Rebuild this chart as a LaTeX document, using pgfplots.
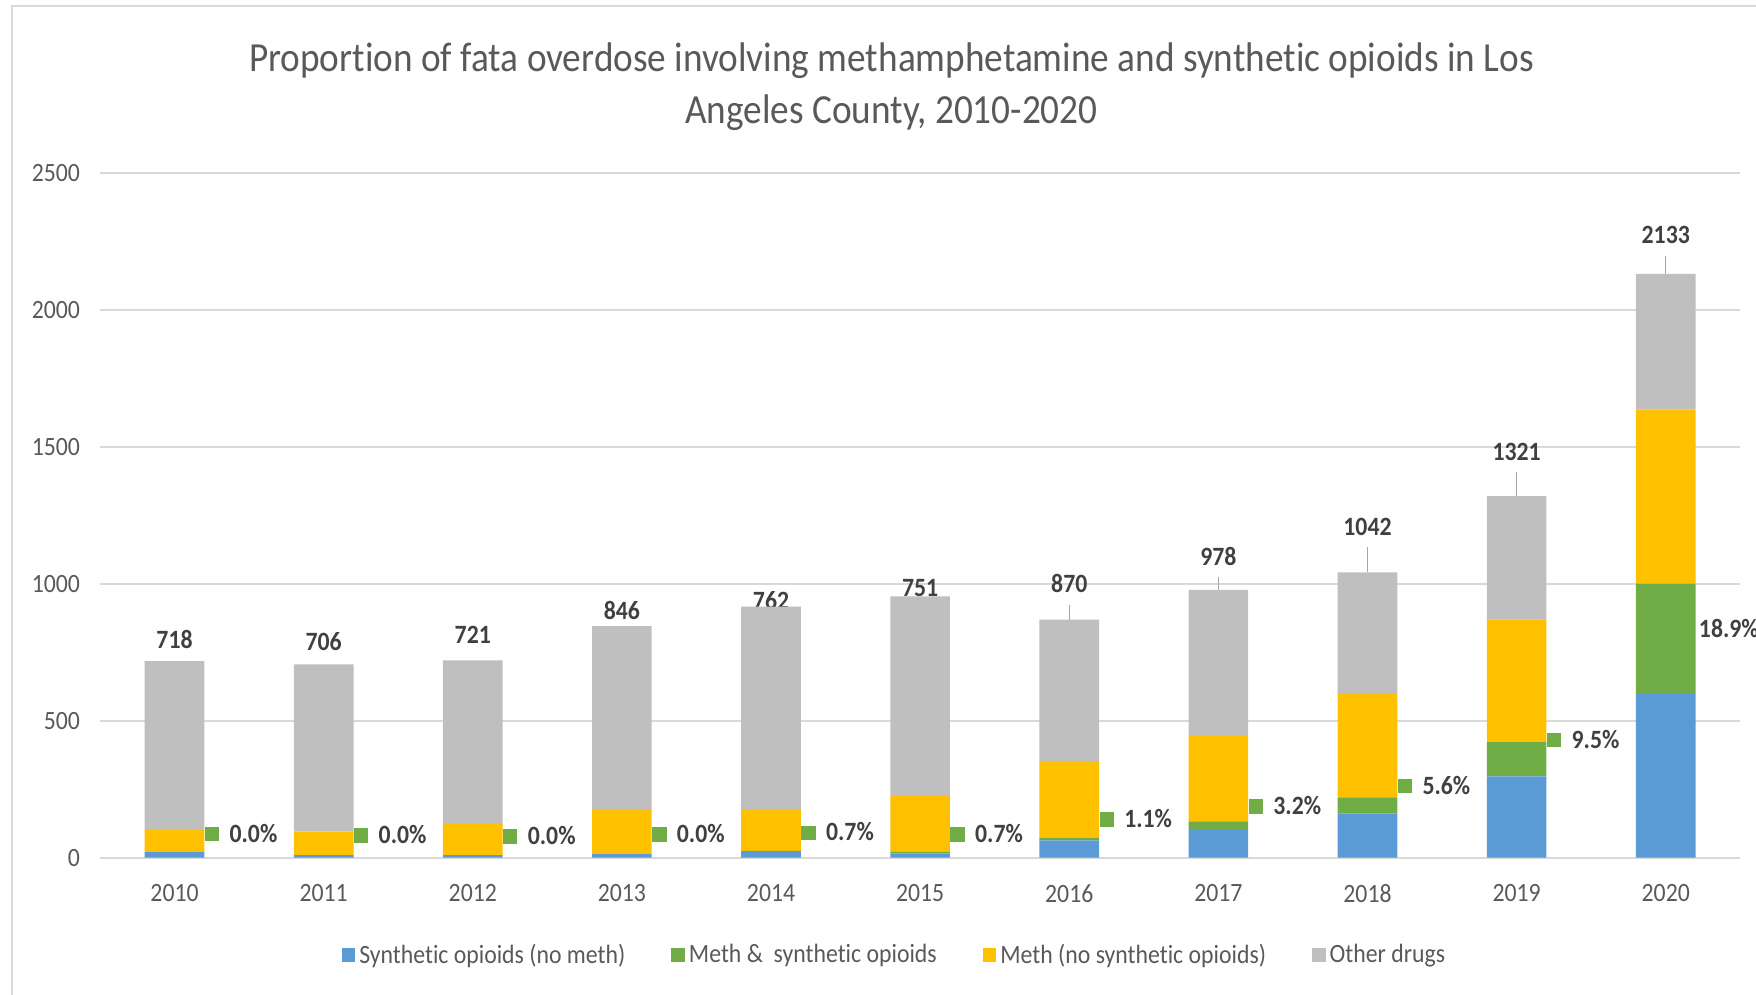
\documentclass[border=0pt]{standalone}
\usepackage{pgfplots}
\usepackage{pgfplotstable}
\pgfplotsset{compat=1.18}
\usepackage{fontspec}
\setmainfont{Carlito}[FakeStretch=0.9, Ligatures={NoCommon}]
\definecolor{cBlue}{HTML}{5B9BD5}
\definecolor{cGreen}{HTML}{70AD47}
\definecolor{cYellow}{HTML}{FFC000}
\definecolor{cGray}{HTML}{BFBFBF}
\definecolor{gridc}{HTML}{D9D9D9}
\definecolor{tickc}{HTML}{595959}
\definecolor{labc}{HTML}{404040}
\definecolor{leadc}{HTML}{A6A6A6}

\pgfplotstableread{
x blue green yellow other
0 20 0 81 617
1 9 0 86 611
2 9 0 114 598
3 15 0 160 671
4 20 5 152 740
5 16 5 204 730
6 63 10 277 520
7 102 31 315 530
8 162 58 378 444
9 297 125 449 450
10 598 403 637 495
}\datatable

\newcommand{\lfont}{\fontsize{13.2}{15}\selectfont}
\newcommand{\tot}[3]{\node[text=labc, font=\bfseries\lfont, inner sep=1pt] at (axis cs:#1,#2) {#3};}
\newcommand{\lead}[3]{\draw[leadc, line width=0.6pt] (axis cs:#1,#2) -- (axis cs:#1,#3);}
\newcommand{\pct}[3]{\node[anchor=base west, inner sep=0pt, yshift=-3.95pt, text=labc, font=\bfseries\lfont] at (axis cs:#1,#2) {\textcolor{cGreen}{\rule[0.35pt]{7.2pt}{7.2pt}}\hspace{5.2pt}#3};}

\begin{document}
\begin{tikzpicture}
\begin{axis}[
  width=820.15pt, height=342.2pt, scale only axis,
  xmin=-0.5, xmax=10.5, ymin=0, ymax=2500,
  ybar stacked, bar width=0.4,
  xtick={0,...,10},
  xticklabels={2010,2011,2012,2013,2014,2015,2016,2017,2018,2019,2020},
  ytick={0,500,1000,1500,2000,2500},
  ymajorgrids, grid style={gridc, line width=1pt},
  axis line style={draw=none}, major tick length=0pt,
  tick label style={font=\lfont, text=tickc},
  /pgf/number format/assume math mode=true,
  /pgf/number format/1000 sep={},
  yticklabel style={xshift=-6.5pt},
  xticklabel style={yshift=-10pt},
  legend columns=4,
  legend style={at={(0.4849,-0.1422)}, anchor=center, draw=none, fill=none,
    font=\lfont, text=tickc, inner sep=0pt,
    /tikz/every even column/.append style={column sep=21pt}},
  clip=false,
]
\addplot[fill=cBlue, draw=none, legend image code/.code={\fill[cBlue] (0pt,-3.4pt) rectangle (6.8pt,3.4pt);}] table[x=x, y=blue] {\datatable};
\addlegendentry{Synthetic opioids (no meth)}
\addplot[fill=cGreen, draw=none, legend image code/.code={\fill[cGreen] (0pt,-3.4pt) rectangle (6.8pt,3.4pt);}] table[x=x, y=green] {\datatable};
\addlegendentry{Meth \& \ synthetic opioids}
\addplot[fill=cYellow, draw=none, legend image code/.code={\fill[cYellow] (0pt,-3.4pt) rectangle (6.8pt,3.4pt);}] table[x=x, y=yellow] {\datatable};
\addlegendentry{Meth (no synthetic opioids)}
\addplot[fill=cGray, draw=none, legend image code/.code={\fill[cGray] (0pt,-3.4pt) rectangle (6.8pt,3.4pt);}] table[x=x, y=other] {\datatable};
\addlegendentry{Other drugs}

\lead{6}{870}{923}
\lead{7}{978}{1025}
\lead{8}{1042}{1134}
\lead{9}{1321}{1410}
\lead{10}{2133}{2199}

\tot{0}{798}{718}
\tot{1}{791}{706}
\tot{2}{813}{721}
\tot{3}{903}{846}
\tot{4}{940}{762}
\tot{5}{985}{751}
\tot{6}{1001}{870}
\tot{7}{1100}{978}
\tot{8}{1209}{1042}
\tot{9}{1483}{1321}
\tot{10}{2275}{2133}

\pct{0.2}{85.5}{0.0\%}
\pct{1.2}{80.5}{0.0\%}
\pct{2.2}{77}{0.0\%}
\pct{3.2}{85}{0.0\%}
\pct{4.2}{91}{0.7\%}
\pct{5.2}{85}{0.7\%}
\pct{6.2}{139}{1.1\%}
\pct{7.2}{187}{3.2\%}
\pct{8.2}{261}{5.6\%}
\pct{9.2}{429}{9.5\%}
\node[anchor=base west, inner sep=0pt, yshift=-3.95pt, xshift=1.5pt, text=labc, font=\bfseries\lfont] at (axis cs:10.2,832) {18.9\%};
\end{axis}
\node[anchor=base, font=\fontsize{20.7}{25}\selectfont, text=tickc] at (395.75pt,393pt) {Proportion of fata overdose involving methamphetamine and synthetic opioids in Los};
\node[anchor=base, font=\fontsize{20.7}{25}\selectfont, text=tickc] at (395.75pt,367pt) {Angeles County, 2010-2020};
\draw[gridc, line width=1pt] (860pt,425.85pt) -- (-43.85pt,425.85pt) -- (-43.85pt,-90pt);
\pgfresetboundingbox
\useasboundingbox (-50pt,-68.65pt) rectangle (828pt,428.85pt);
\end{tikzpicture}
\end{document}
